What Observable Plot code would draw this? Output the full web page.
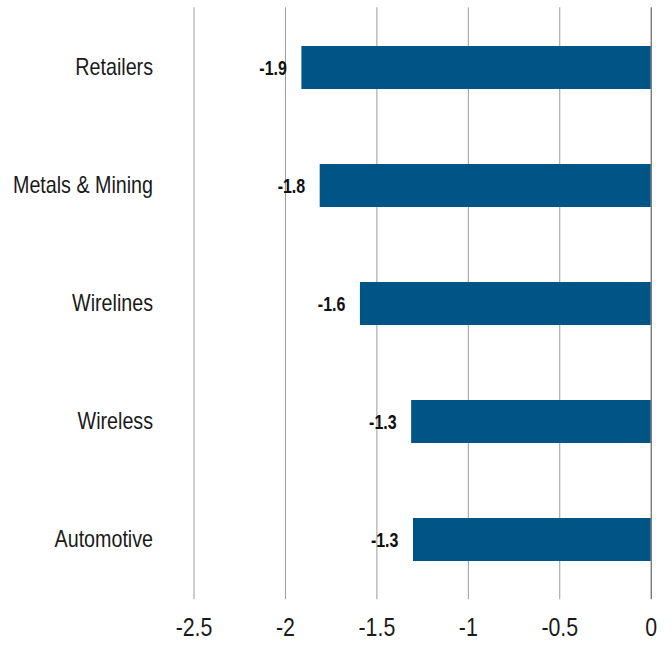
<!DOCTYPE html>
<html>
<head>
<meta charset="utf-8">
<script src="https://cdn.jsdelivr.net/npm/d3@7"></script>
<script src="https://cdn.jsdelivr.net/npm/@observablehq/plot@0.6"></script>
<style>
  html, body { margin: 0; padding: 0; background: #fff; }
  #chart { width: 672px; height: 650px; }
</style>
</head>
<body>
<div id="chart"></div>
<script>
const categories = ["Retailers", "Metals & Mining", "Wirelines", "Wireless", "Automotive"];
const values = [-1.91, -1.81, -1.59, -1.31, -1.30];
const labels = ["-1.9", "-1.8", "-1.6", "-1.3", "-1.3"];
const xTicks = [-2.5, -2, -1.5, -1, -0.5, 0];

const data = categories.map((c, i) => ({category: c, value: values[i], label: labels[i]}));

const chart = Plot.plot({
  width: 672,
  height: 650,
  marginLeft: 193.5,
  marginRight: 21.3,
  marginTop: 7.3,
  marginBottom: 50.8,
  style: {fontFamily: '"Liberation Sans", Arial, sans-serif', background: "#fff", color: "#1a1a1a"},
  x: {domain: [-2.5, 0], ticks: xTicks, label: null},
  y: {domain: categories, paddingInner: 0.637, paddingOuter: 0.318, label: null},
  marks: [
    Plot.ruleX(xTicks.filter(d => d !== 0), {stroke: "#9a9a9a", strokeWidth: 1}),
    Plot.barX(data, {y: "category", x1: 0, x2: "value", fill: "#005587"}),
    Plot.ruleX([0], {stroke: "#444", strokeWidth: 1}),
    Plot.text(data, {y: "category", x: "value", text: "label", textAnchor: "end", dx: -15, dy: 1, fontSize: 19.5, fontWeight: "bold", fill: "#111"}),
    Plot.axisX({ticks: xTicks, tickSize: 0, tickPadding: 18, fontSize: 26, tickFormat: d => String(d), fill: "#1a1a1a", label: null}),
    Plot.axisY({tickSize: 0, tickPadding: 41, fontSize: 24, dy: -1, fill: "#1a1a1a", label: null})
  ]
});
document.getElementById("chart").appendChild(chart);
// Emulate a narrow (condensed) typeface by compressing glyph widths
chart.querySelectorAll("text").forEach(t => {
  const len = t.getComputedTextLength();
  if (len > 0) {
    t.setAttribute("textLength", (len * 0.82).toFixed(2));
    t.setAttribute("lengthAdjust", "spacingAndGlyphs");
  }
});
</script>
</body>
</html>
